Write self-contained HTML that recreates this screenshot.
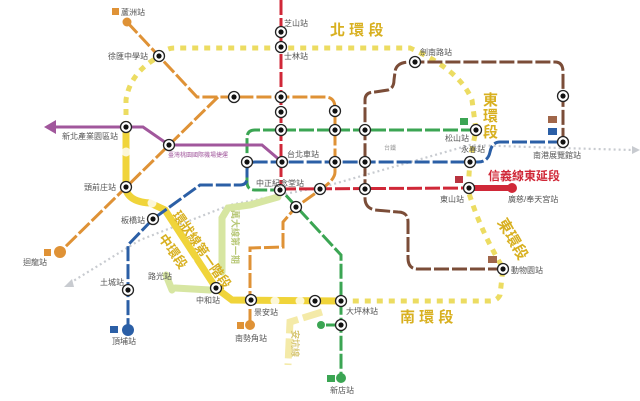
<!DOCTYPE html>
<html><head><meta charset="utf-8"><style>
html,body{margin:0;padding:0;background:#fff;}
svg{display:block;font-family:"Liberation Sans","Noto Sans CJK TC",sans-serif;}
.l{font-size:8px;fill:#555;}
</style></head><body>
<svg width="640" height="401" viewBox="0 0 640 401" xmlns="http://www.w3.org/2000/svg">
<defs>
<g id="st"><circle r="5.5" fill="#fff" stroke="#222" stroke-width="1.3"/><circle r="2.6" fill="#111"/></g>
<g id="op"><circle r="4.5" fill="#fff" opacity="0.8"/></g>
</defs>
<rect width="640" height="401" fill="#fff"/>

<!-- railway dotted gray -->
<polyline points="70,283 140,240 230,205 330,185 470,145 560,148 632,150" fill="none" stroke="#c8cbd0" stroke-width="2.2" stroke-dasharray="2 3"/>
<polygon points="632,146 640,150 632,154" fill="#c8cbd0"/>
<polygon points="72,279 64,287 74,287" fill="#c8cbd0"/>

<!-- light green Wanda / light yellow Ankeng -->
<g fill="none" stroke="#d7e6a2" stroke-width="7" stroke-linecap="round">
<polyline points="278,197 250,205 228,208 222,218 222,272"/>
<polyline points="175,288 210,290"/>
<polyline points="166,275 172,290"/>
</g>
<polyline points="322,312 290,322 288,365" fill="none" stroke="#f4eaa8" stroke-width="7" stroke-dasharray="20 5"/>

<!-- yellow circular dotted -->
<g fill="none" stroke="#ecdc62" stroke-width="5" stroke-dasharray="6 6">
<path d="M126,127 L126,100 Q130,72 160,56 Q164,48 175,48 L410,48 Q460,70 472,100 L476,130 L470,160 L468,190 Q480,230 503,268 L500,295 Q497,301 490,301 L341,301"/>
</g>
<!-- yellow solid -->
<path d="M126,127 L126,190 Q130,202 150,203 L165,210 L216,288 L232,300 L341,301" fill="none" stroke="#f0d43a" stroke-width="7"/>
<g>
<use href="#op" x="126" y="152"/><use href="#op" x="152" y="203"/><use href="#op" x="170" y="235"/><use href="#op" x="180" y="250"/><use href="#op" x="190" y="262"/>
<use href="#op" x="275" y="301"/><use href="#op" x="300" y="301"/>
</g>

<!-- orange -->
<g fill="none" stroke="#df9236" stroke-width="3" stroke-dasharray="15 3">
<path d="M127,22 L197,97 L325,97 Q335,97 335,108 L335,172 Q335,180 320,190 L296,207 L283,222 L283,247 L250,248 L250,322"/>
<path d="M218,97 L60,252"/>
</g>
<circle cx="127" cy="22" r="4.5" fill="#df9236"/>
<circle cx="60" cy="252" r="6" fill="#df9236"/>
<circle cx="250" cy="325" r="5" fill="#df9236"/>

<!-- red -->
<g fill="none" stroke="#d02838" stroke-width="3" stroke-dasharray="15 3">
<line x1="281" y1="0" x2="281" y2="189"/>
<line x1="281" y1="189" x2="470" y2="188"/>
</g>
<line x1="470" y1="188" x2="510" y2="188" stroke="#d02838" stroke-width="6"/>
<circle cx="512" cy="188" r="5" fill="#d02838"/>

<!-- green -->
<g fill="none" stroke="#3ba553" stroke-width="3" stroke-dasharray="15 3">
<path d="M476,130 L255,130 Q247,130 247,138 L247,182 Q247,190 255,190 L281,190 L341,255 L341,378"/>
<line x1="341" y1="325" x2="322" y2="325"/>
</g>
<circle cx="341" cy="378" r="5" fill="#3ba553"/>
<circle cx="321" cy="325" r="4" fill="#3ba553"/>

<!-- blue -->
<g fill="none" stroke="#2b5fa6" stroke-width="3" stroke-dasharray="15 3">
<path d="M563,142 L500,142 Q492,142 490,152 Q488,162 478,162 L255,162 Q247,162 247,170 L247,178 Q247,185 240,185 L200,185 L153,219 L128,245 L128,330"/>
</g>
<circle cx="128" cy="330" r="6" fill="#2b5fa6"/>

<!-- purple -->
<polyline points="55,127 143,127 169,145 262,145 282,162" fill="none" stroke="#a1579c" stroke-width="3"/>
<polygon points="44,127 56,120 56,134" fill="#a1579c"/>

<!-- brown -->
<g fill="none" stroke="#7b4d38" stroke-width="3" stroke-dasharray="15 3">
<path d="M503,269 L418,269 Q408,269 408,258 L408,222 Q408,212 398,212 L375,210 Q365,208 365,198 L365,100 Q365,92 375,92 L388,90 Q394,88 394,80 L395,72 Q396,62 410,62 L555,62 Q563,62 563,72 L563,142"/>
</g>

<!-- stations -->
<g>
<use href="#st" x="159" y="56"/><use href="#st" x="234" y="97"/>
<use href="#st" x="281" y="32"/><use href="#st" x="281" y="47"/><use href="#st" x="281" y="97"/><use href="#st" x="281" y="112"/><use href="#st" x="281" y="130"/><use href="#st" x="282" y="162"/><use href="#st" x="280" y="190"/>
<use href="#st" x="335" y="111"/><use href="#st" x="335" y="130"/><use href="#st" x="335" y="162"/><use href="#st" x="320" y="189"/><use href="#st" x="296" y="207"/>
<use href="#st" x="365" y="130"/><use href="#st" x="365" y="162"/><use href="#st" x="365" y="189"/>
<use href="#st" x="415" y="62"/><use href="#st" x="563" y="96"/><use href="#st" x="563" y="142"/>
<use href="#st" x="476" y="130"/><use href="#st" x="470" y="162"/><use href="#st" x="469" y="188"/><use href="#st" x="503" y="269"/>
<use href="#st" x="126" y="127"/><use href="#st" x="169" y="145"/><use href="#st" x="247" y="162"/>
<use href="#st" x="126" y="187"/><use href="#st" x="153" y="219"/><use href="#st" x="128" y="290"/>
<use href="#st" x="216" y="288"/><use href="#st" x="251" y="300"/><use href="#st" x="315" y="301"/><use href="#st" x="341" y="301"/><use href="#st" x="341" y="325"/>
</g>

<!-- line badges -->
<rect x="112" y="8" width="7" height="7" fill="#df9236"/>
<rect x="44" y="249" width="7" height="7" fill="#df9236"/>
<rect x="237" y="322" width="7" height="7" fill="#df9236"/>
<rect x="110" y="326" width="8" height="7" fill="#2b5fa6"/>
<rect x="327" y="375" width="8" height="7" fill="#3ba553"/>
<rect x="460" y="118" width="8" height="7" fill="#3ba553"/>
<rect x="455" y="176" width="8" height="7" fill="#b8333f"/>
<rect x="548" y="116" width="9" height="7" fill="#a0664a"/>
<rect x="548" y="128" width="9" height="7" fill="#2b5fa6"/>
<rect x="488" y="256" width="9" height="7" fill="#a0664a"/>

<!-- labels -->
<text class="l" x="121" y="15">蘆洲站</text>
<text class="l" x="108" y="59">徐匯中學站</text>
<text class="l" x="284" y="26">芝山站</text>
<text class="l" x="284" y="59">士林站</text>
<text class="l" x="62" y="139">新北產業園區站</text>
<text x="168" y="157" font-size="6" fill="#a1579c">臺灣桃園國際機場捷運</text>
<text class="l" x="287" y="157">台北車站</text>
<text class="l" x="256" y="186">中正紀念堂站</text>
<text class="l" x="84" y="190">頭前庄站</text>
<text class="l" x="121" y="223">板橋站</text>
<text class="l" x="23" y="265">迴龍站</text>
<text class="l" x="100" y="285">土城站</text>
<text class="l" x="112" y="344">頂埔站</text>
<text class="l" x="148" y="279">路光站</text>
<text class="l" x="196" y="303">中和站</text>
<text class="l" x="254" y="315">景安站</text>
<text class="l" x="235" y="341">南勢角站</text>
<text class="l" x="346" y="314">大坪林站</text>
<text class="l" x="330" y="393">新店站</text>
<text class="l" x="511" y="273">動物園站</text>
<text class="l" x="440" y="202">東山站</text>
<text class="l" x="508" y="202">廣慈/奉天宮站</text>
<text class="l" x="461" y="152">永春站</text>
<text class="l" x="445" y="141">松山站</text>
<text class="l" x="533" y="158">南港展覽館站</text>
<text class="l" x="420" y="55">劍南路站</text>
<text x="384" y="150" font-size="6" fill="#999">台鐵</text>

<g font-weight="bold" fill="#d8b020" font-size="15">
<text x="330" y="35">北 環 段</text>
<text x="400" y="322">南 環 段</text>
<text x="483" y="105">東</text><text x="483" y="121">環</text><text x="483" y="137">段</text>
<text transform="translate(497,222) rotate(60)">東環段</text>
<text transform="translate(172,215) rotate(55)" font-size="13">環狀線第一階段</text>
<text transform="translate(158,238) rotate(55)" font-size="13">中環段</text>
</g>
<text transform="translate(232,210) rotate(90)" font-size="9" fill="#b8c878" font-weight="bold">萬大線第一期</text>
<text transform="translate(292,330) rotate(90)" font-size="9" fill="#d8c878" font-weight="bold">安坑線</text>
<text x="488" y="180" font-size="12" font-weight="bold" fill="#d02838">信義線東延段</text>
</svg>
</body></html>
